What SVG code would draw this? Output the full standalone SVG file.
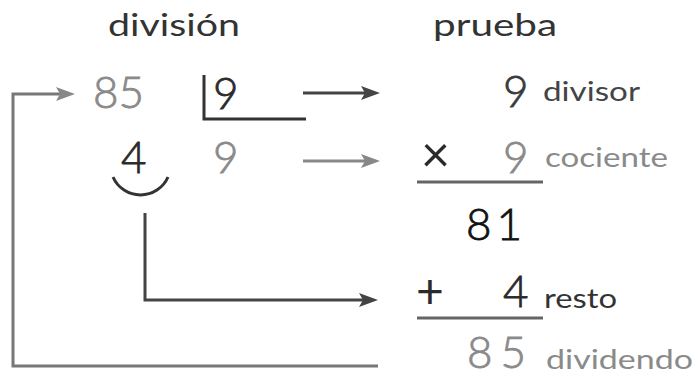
<svg xmlns="http://www.w3.org/2000/svg" width="697" height="377" viewBox="0 0 697 377">
<style>
text{font-family:Lato,"Noto Sans","Liberation Sans",sans-serif}
.title{font-size:30px;fill:#333}
.big{font-size:44px;font-weight:300;stroke-width:0.8px}
.lbl{font-size:27px}
.dark{fill:#2a2a2a;stroke:#2a2a2a}
.gray{fill:#8a8a8a;stroke:#8a8a8a}
.lbl.gray{stroke:none}
.line{fill:none;stroke-width:3}
</style>
<defs>
<marker id="ahDark" markerUnits="userSpaceOnUse" markerWidth="20" markerHeight="16" refX="8" refY="7" orient="auto">
<path d="M0,0 L19,7 L0,14 L4,7 z" fill="#444"/>
</marker>
<marker id="ahGray" markerUnits="userSpaceOnUse" markerWidth="20" markerHeight="16" refX="8" refY="7" orient="auto">
<path d="M0,0 L19,7 L0,14 L4,7 z" fill="#888"/>
</marker>
</defs>
<rect width="697" height="377" fill="#fff"/>
<g id="titles">
<text class="title" x="108" y="36" textLength="132" lengthAdjust="spacingAndGlyphs">división</text>
<text class="title" x="433" y="36" textLength="124" lengthAdjust="spacingAndGlyphs">prueba</text>
</g>
<g id="dividend">
<text class="big gray" x="93" y="108">85</text>
</g>
<g id="divisor-box">
<path class="line" d="M204,75 V119 H306" stroke="#333"/>
<text class="big dark" x="213" y="109">9</text>
</g>
<g id="remainder">
<text class="big dark" x="121" y="173">4</text>
<path class="line" d="M113,177 A30,30 0 0 0 168,177" stroke="#333"/>
</g>
<g id="quotient">
<text class="big gray" x="213" y="173">9</text>
</g>
<g id="check-divisor">
<text class="big" fill="#3a3a3a" stroke="#3a3a3a" x="503" y="107">9</text>
<text class="lbl" fill="#444" x="543" y="101" textLength="97" lengthAdjust="spacingAndGlyphs">divisor</text>
</g>
<g id="check-quotient">
<text fill="#2a2a2a" x="421" y="172" font-size="50">×</text>
<text class="big gray" x="503" y="173">9</text>
<text class="lbl gray" x="545" y="167" textLength="123" lengthAdjust="spacingAndGlyphs">cociente</text>
<path class="line" d="M417,182 H543" stroke="#666"/>
</g>
<g id="product">
<text class="big" fill="#111" stroke="#111" x="466" y="240" letter-spacing="5">81</text>
</g>
<g id="check-remainder">
<text fill="#2a2a2a" x="416" y="308" font-size="48">+</text>
<text class="big dark" x="503" y="307">4</text>
<text class="lbl" fill="#333" x="544" y="308" textLength="73" lengthAdjust="spacingAndGlyphs">resto</text>
<path class="line" d="M417,318 H543" stroke="#666"/>
</g>
<g id="check-dividend">
<text class="big gray" x="467" y="368" font-size="42" letter-spacing="8">85</text>
<text class="lbl gray" x="546" y="369" textLength="147" lengthAdjust="spacingAndGlyphs">dividendo</text>
</g>
<g id="connectors">
<path class="line" d="M303,93 H369" stroke="#444" marker-end="url(#ahDark)"/>
<path class="line" d="M303,161 H369" stroke="#888" marker-end="url(#ahGray)"/>
<path class="line" d="M145,213 V300 H367" stroke="#444" marker-end="url(#ahDark)"/>
<path class="line" d="M378,366 H13 V94 H64" stroke="#777" marker-end="url(#ahGray)"/>
</g>
</svg>
